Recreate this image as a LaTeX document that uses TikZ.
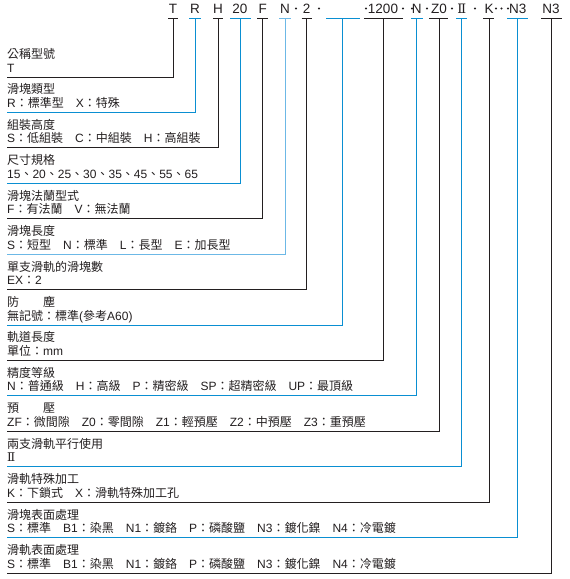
\documentclass[tikz,border=0pt]{standalone}
\usepackage{fontspec}
\setmainfont{Liberation Sans}
\newfontfamily\cjkf{Noto Sans CJK TC}
\newfontfamily\romf{DejaVu Serif}
\newcommand{\C}[1]{{\cjkf #1}}
\definecolor{ink}{HTML}{231F20}
\definecolor{cblue}{HTML}{0A8FD2}
\definecolor{lblue}{HTML}{6CB8E6}
\begin{document}
\begin{tikzpicture}[x=1pt,y=-1pt,
  code/.style={font=\fontsize{13.5}{14}\selectfont, text=ink, inner sep=0pt, anchor=base},
  ttl/.style={font=\fontsize{12}{13}\selectfont, text=ink, inner sep=0pt, anchor=base west},
  sepdot/.style={circle, fill=ink, inner sep=0pt, minimum size=2.3pt},
  blk/.style={draw=ink, line width=0.9pt},
  blu/.style={draw=cblue, line width=0.9pt},
  lbl/.style={draw=lblue, line width=0.9pt}]
\useasboundingbox (0,0) rectangle (570,579);
\fill[white] (0,0) rectangle (570,579);
% code row
\node[code] (c1) at (173,13) {T};
\node[code] (c2) at (195,13) {R};
\node[code] (c3) at (218,13) {H};
\node[code] (c4) at (240,13) {20};
\node[code] (c5) at (262.7,13) {F};
\node[code] (c6) at (285,13) {N};
\node[code] (c7) at (306.7,13) {2};
\coordinate (c8) at (342.7,13);
\node[code] (c9) at (383,13) {1200};
\node[code] (c10) at (416.7,13) {N};
\node[code] (c11) at (439,13) {Z0};
\node[code] (c12) at (461.7,13) {{\romf\fontsize{13}{14}\selectfont Ⅱ}};
\node[code] (c13) at (489,13) {K};
\node[code] (c14) at (517.7,13) {N3};
\node[code] (c15) at (551,13) {N3};
% separator dots
\foreach \i/\x in {1/296,2/319,3/366,4/403,5/412,6/427,7/452,8/475,9/496,10/501.5,11/508}
  \node[sepdot] (d\i) at (\x,8.5) {};
% underlines and connectors
\foreach \i/\xa/\xb/\xc/\yl/\st in {
  1/168/178/173/77/blk, 2/189/201/195/112.4/blu, 3/213/223/218/147.9/blk,
  4/230/251/240/183.3/blu, 5/257/268.3/262.7/218.7/blk, 6/279/291/285/254.2/lbl,
  7/301.7/311.7/306.7/289.6/blk, 8/326/360/342.7/325/blu, 9/364/403/383/360.4/blk,
  10/411/423/416.7/395.9/blu, 11/429/448/439/431.3/blk, 12/456/467/461.7/466.7/blu,
  13/483/494/489/502.2/blk, 14/507/528/517.7/537.6/blu, 15/541/562/551/573/blk}{
  \coordinate (ua\i) at (\xa,18);
  \coordinate (ub\i) at (\xb,18);
  \coordinate (u\i) at (\xc,18);
  \coordinate (e\i) at (7,\yl);
  \draw[\st] (ua\i) -- (ub\i);
  \draw[\st] (u\i) |- (e\i);
}
% labels
\node[ttl] (t1) at (7,58.5) {\C{公稱型號}};
\node[ttl] (v1) at (7,72) {T};
\node[ttl] (t2) at (7,93.9) {\C{滑塊類型}};
\node[ttl] (v2) at (7,107.4) {R\C{：標準型　}X\C{：特殊}};
\node[ttl] (t3) at (7,129.4) {\C{組裝高度}};
\node[ttl] (v3) at (7,142.9) {S\C{：低組裝　}C\C{：中組裝　}H\C{：高組裝}};
\node[ttl] (t4) at (7,164.8) {\C{尺寸規格}};
\node[ttl] (v4) at (7,178.3) {15\C{、}20\C{、}25\C{、}30\C{、}35\C{、}45\C{、}55\C{、}65};
\node[ttl] (t5) at (7,200.2) {\C{滑塊法蘭型式}};
\node[ttl] (v5) at (7,213.7) {F\C{：有法蘭　}V\C{：無法蘭}};
\node[ttl] (t6) at (7,235.7) {\C{滑塊長度}};
\node[ttl] (v6) at (7,249.2) {S\C{：短型　}N\C{：標準　}L\C{：長型　}E\C{：加長型}};
\node[ttl] (t7) at (7,271.1) {\C{單支滑軌的滑塊數}};
\node[ttl] (v7) at (7,284.6) {EX\C{：}2};
\node[ttl] (t8) at (7,306.5) {\C{防　　塵}};
\node[ttl] (v8) at (7,320) {\C{無記號：標準}(\C{參考}A60)};
\node[ttl] (t9) at (7,341.9) {\C{軌道長度}};
\node[ttl] (v9) at (7,355.4) {\C{單位：}mm};
\node[ttl] (t10) at (7,377.4) {\C{精度等級}};
\node[ttl] (v10) at (7,390.9) {N\C{：普通級　}H\C{：高級　}P\C{：精密級　}SP\C{：超精密級　}UP\C{：最頂級}};
\node[ttl] (t11) at (7,412.8) {\C{預　　壓}};
\node[ttl] (v11) at (7,426.3) {ZF\C{：微間隙　}Z0\C{：零間隙　}Z1\C{：輕預壓　}Z2\C{：中預壓　}Z3\C{：重預壓}};
\node[ttl] (t12) at (7,448.2) {\C{兩支滑軌平行使用}};
\node[ttl] (v12) at (7,461.7) {{\romf\fontsize{12}{13}\selectfont Ⅱ}};
\node[ttl] (t13) at (7,483.7) {\C{滑軌特殊加工}};
\node[ttl] (v13) at (7,497.2) {K\C{：下鎖式　}X\C{：滑軌特殊加工孔}};
\node[ttl] (t14) at (7,519.1) {\C{滑塊表面處理}};
\node[ttl] (v14) at (7,532.6) {S\C{：標準　}B1\C{：染黑　}N1\C{：鍍鉻　}P\C{：磷酸鹽　}N3\C{：鍍化鎳　}N4\C{：冷電鍍}};
\node[ttl] (t15) at (7,554.5) {\C{滑軌表面處理}};
\node[ttl] (v15) at (7,568) {S\C{：標準　}B1\C{：染黑　}N1\C{：鍍鉻　}P\C{：磷酸鹽　}N3\C{：鍍化鎳　}N4\C{：冷電鍍}};
\end{tikzpicture}
\end{document}
